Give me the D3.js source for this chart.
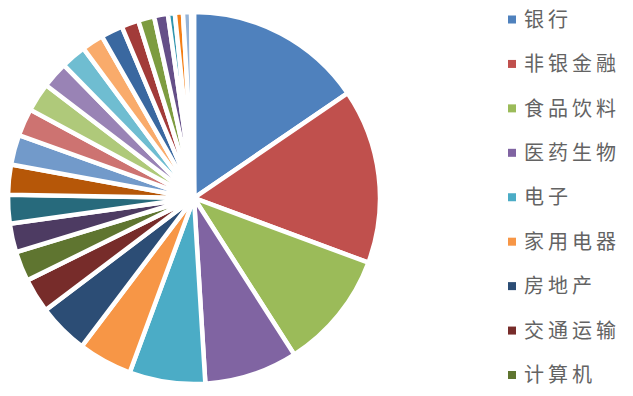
<!DOCTYPE html>
<html>
<head>
<meta charset="utf-8">
<script src="https://cdn.jsdelivr.net/npm/d3@7"></script>
<style>
  html, body { margin: 0; padding: 0; background: #ffffff; }
  svg { display: block; }
</style>
</head>
<body>
<svg id="chart" width="633" height="396"></svg>
<script>
// Industry categories (Shenwan level-1), in drawing order (clockwise from 12 o'clock)
const categories = [
  "银行", "非银金融", "食品饮料", "医药生物", "电子", "家用电器", "房地产", "交通运输", "计算机",
  "化工", "汽车", "机械设备", "公用事业", "传媒", "电气设备", "建筑装饰", "有色金属", "通信",
  "国防军工", "商业贸易", "采掘", "农林牧渔", "钢铁", "建筑材料", "休闲服务", "轻工制造", "纺织服装", "综合"
];
// Share (%)
const values = [
  15.5, 15.2, 10.3, 8.1, 6.6, 4.7, 4.4, 3.0, 2.6,
  2.5, 2.5, 2.6, 2.6, 2.4, 2.5, 2.3, 2.2, 1.9,
  1.9, 1.5, 1.4, 1.2, 0.6, 0.7, 0.7, 0.1, 0.1, 0.05
];
const colors = [
  "#4F81BD", "#C0504D", "#9BBB59", "#8064A2", "#4BACC6", "#F79646",
  "#2C4D75", "#772C2A", "#5F7530", "#4D3B62", "#276A7C", "#B65708",
  "#729ACA", "#CD7371", "#AFC97A", "#9983B5", "#6FBDD1", "#F9AB6B",
  "#3A68A0", "#A23B39", "#7D9C40", "#654F88", "#3095AE", "#F47E15",
  "#95B3D7", "#D99694", "#C3D69B", "#B3A2C7"
];
// Legend shows only the first entries (truncated in the original)
const legendItems = categories.slice(0, 9);

const svg = d3.select("#chart");
svg.append("rect").attr("width", 633).attr("height", 396).attr("fill", "#ffffff");

const data = categories.map((c, i) => ({ name: c, value: values[i] }));
const color = d3.scaleOrdinal().domain(categories).range(colors);

const pie = d3.pie().value(d => d.value).sort(null).startAngle(0).endAngle(2 * Math.PI);
const arc = d3.arc().innerRadius(0).outerRadius(186);

const g = svg.append("g").attr("transform", "translate(194,198)");
g.selectAll("path")
  .data(pie(data))
  .join("path")
  .attr("d", arc)
  .attr("fill", d => color(d.data.name))
  .attr("stroke", "#ffffff")
  .attr("stroke-width", 4.5)
  .attr("stroke-linejoin", "miter");

// Legend
const legendY = d3.scalePoint().domain(legendItems).range([19.5, 375]);
const lg = svg.append("g");
const rows = lg.selectAll("g").data(legendItems).join("g")
  .attr("transform", d => `translate(0,${legendY(d)})`);
rows.append("rect")
  .attr("x", 508).attr("y", -4).attr("width", 8).attr("height", 8)
  .attr("fill", d => color(d));
rows.append("text")
  .attr("x", 524).attr("y", 0)
  .attr("dy", "0.36em")
  .attr("font-family", "'Noto Sans CJK SC', sans-serif")
  .attr("font-size", 20)
  .attr("letter-spacing", "4px")
  .attr("fill", "#636363")
  .text(d => d);
</script>
</body>
</html>
